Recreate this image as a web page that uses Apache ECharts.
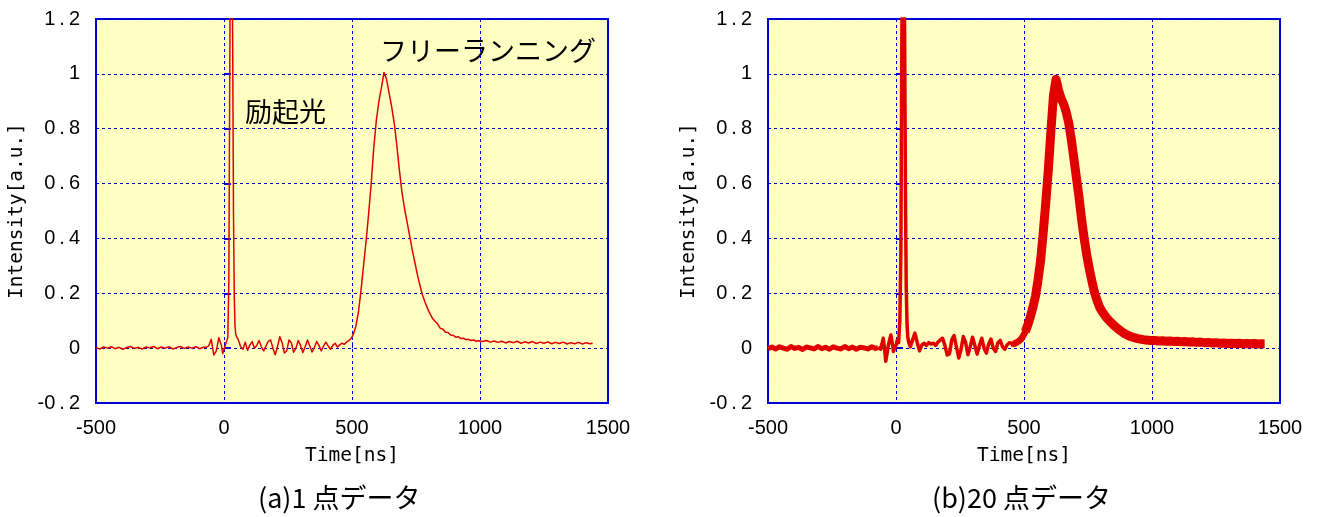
<!DOCTYPE html>
<html>
<head>
<meta charset="utf-8">
<script src="https://cdn.jsdelivr.net/npm/echarts@6/dist/echarts.min.js"></script>
<style>
  html, body { margin: 0; padding: 0; background: #fff; }
  #chart { width: 1324px; height: 517px; }
</style>
</head>
<body>
<div id="chart"></div>
<script>
// sample times [ns], shared by both traces
const timeNs = [
  -500, -485, -470, -455, -440, -425, -410, -395, -380, -365, -350, -335, -320, -305, -290, -275, -260, -245, -230, -215, -200, -185, -170, -155, -140, -125, -110, -95, -80,
  -70, -65, -60, -55, -50, -45, -40, -35, -30, -25, -20, -15, -10, -5, 0, 5, 10, 15,
  19, 22, 25, 28, 31, 34, 37, 40, 43, 46, 50,
  56, 65, 74, 83, 92, 101, 110, 119, 128, 137, 146, 155, 164, 173, 182, 191, 200, 209, 218, 227,
  236, 245, 254, 263, 272, 281, 290, 299, 308, 317, 326, 335, 344, 353, 362, 371, 380, 389, 398, 407,
  416, 425, 434, 443, 452, 461, 470, 479, 488, 497,
  505, 515, 525, 535, 545, 555, 565, 575, 585, 595, 605, 615, 625, 635, 645, 655, 665, 675, 685, 695,
  705, 715, 725, 735, 745, 755, 765, 775, 785, 795, 805, 815, 825, 835, 845, 855, 865, 875, 885, 895,
  905, 915, 925, 935, 945, 955, 965, 975, 985, 995,
  1010, 1025, 1040, 1055, 1070, 1085, 1100, 1115, 1130, 1145, 1160, 1175, 1190, 1205, 1220, 1235, 1250, 1265, 1280, 1295,
  1310, 1325, 1340, 1355, 1370, 1385, 1400, 1415, 1430, 1440
];

// (a) single shot
const singleShot = [
  0.002, -0.003, 0.004, 0.000, 0.005, -0.002, 0.003, -0.004, 0.002, 0.006, -0.001, 0.003, -0.003, 0.004, 0.001, 0.006, -0.002, 0.004, 0.000, 0.005, -0.003, 0.002, 0.006, -0.001, 0.004, 0.000, 0.005, -0.002, 0.003,
  0.003, -0.002, 0.008, 0.020, 0.032, 0.005, -0.025, -0.030, -0.010, 0.015, 0.038, 0.040, 0.010, -0.020, -0.015, 0.010, 0.015, 0.040,
  0.25, 0.9, 1.5, 1.7, 1.5, 1.1, 0.5, 0.2, 0.08, 0.05, 0.04,
  0.030, 0.005, -0.004, 0.022, -0.008, 0.012, 0.024, 0.000, 0.010, 0.028, 0.005, -0.010, 0.008, 0.025, 0.030, 0.000, -0.024, 0.005, 0.042, 0.020,
  -0.018, -0.010, 0.030, 0.020, -0.015, 0.000, 0.028, 0.010, -0.016, 0.005, 0.030, 0.008, -0.014, 0.002, 0.024, 0.010, -0.010, 0.008, 0.022, 0.008,
  -0.004, 0.010, 0.018, 0.004, 0.012, 0.018, 0.014, 0.022, 0.028, 0.036,
  0.05, 0.08, 0.13, 0.21, 0.30, 0.39, 0.49, 0.60, 0.73, 0.83, 0.90, 0.95, 1.005, 0.98, 0.93, 0.88, 0.82, 0.74, 0.65, 0.57,
  0.51, 0.46, 0.41, 0.36, 0.315, 0.27, 0.23, 0.195, 0.168, 0.145, 0.125, 0.108, 0.097, 0.088, 0.072, 0.070, 0.058, 0.057, 0.048, 0.047,
  0.040, 0.042, 0.035, 0.036, 0.031, 0.032, 0.028, 0.030, 0.025, 0.027,
  0.024, 0.028, 0.022, 0.026, 0.021, 0.025, 0.019, 0.024, 0.020, 0.025, 0.018, 0.023, 0.019, 0.024, 0.017, 0.022, 0.018, 0.023, 0.016, 0.021,
  0.017, 0.022, 0.015, 0.020, 0.016, 0.021, 0.015, 0.020, 0.016, 0.018
];

// (b) 20 shots overlaid
const avg20 = [
  -0.002, 0.004, -0.003, 0.005, 0.000, -0.004, 0.006, -0.001, 0.003, -0.005, 0.004, 0.001, -0.003, 0.006, -0.002, 0.003, -0.004, 0.005, 0.000, -0.003, 0.006, -0.002, 0.004, -0.004, 0.003, 0.001, -0.003, 0.005, -0.001,
  0.002, 0.000, -0.004, 0.015, 0.036, 0.000, -0.048, -0.020, 0.010, 0.030, 0.048, 0.020, -0.012, -0.010, 0.010, 0.030, 0.020, 0.100,
  0.35, 0.95, 1.5, 1.7, 1.5, 1.1, 0.55, 0.22, 0.09, 0.04, 0.02,
  0.005, 0.030, 0.055, 0.020, -0.010, 0.012, 0.018, 0.010, 0.020, 0.015, 0.018, 0.010, 0.022, 0.030, 0.036, 0.010, -0.025, -0.020, 0.030, 0.046,
  0.005, -0.036, -0.005, 0.042, 0.020, -0.024, 0.005, 0.040, 0.010, -0.022, 0.010, 0.036, 0.000, -0.018, 0.015, 0.033, 0.000, -0.012, 0.020, 0.028,
  0.005, -0.004, 0.012, 0.020, 0.018, 0.015, 0.020, 0.025, 0.032, 0.045,
  0.06, 0.085, 0.115, 0.15, 0.19, 0.25, 0.32, 0.42, 0.53, 0.65, 0.79, 0.92, 0.98, 0.94, 0.91, 0.89, 0.86, 0.82, 0.76, 0.69,
  0.62, 0.55, 0.47, 0.40, 0.34, 0.29, 0.245, 0.205, 0.175, 0.15, 0.133, 0.12, 0.108, 0.098, 0.089, 0.080, 0.072, 0.065, 0.058, 0.052,
  0.047, 0.043, 0.040, 0.037, 0.035, 0.033, 0.031, 0.030, 0.029, 0.028,
  0.028, 0.026, 0.027, 0.025, 0.026, 0.024, 0.025, 0.023, 0.024, 0.022, 0.023, 0.021, 0.022, 0.020, 0.021, 0.019, 0.020, 0.018, 0.019, 0.017,
  0.018, 0.017, 0.018, 0.016, 0.017, 0.016, 0.017, 0.015, 0.016, 0.016
];

const captions = ['(a)1 点データ', '(b)20 点データ'];
const notes = ['励起光', 'フリーランニング'];

const RED = '#e00000';
const BLUE = '#0000dd';
const pairs = vals => timeNs.map((t, i) => [t, vals[i]]);
const part = (vals, a, b) => pairs(vals).filter(p => p[0] >= a && p[0] <= b);

const grid = left => ({
  left: left, top: 19, width: 512, height: 384,
  show: true, backgroundColor: '#ffffc4', borderColor: BLUE, borderWidth: 2
});

const xAx = gi => ({
  type: 'value', gridIndex: gi, min: -500, max: 1500, interval: 500,
  name: 'Time[ns]', nameLocation: 'middle', nameGap: 43,
  nameTextStyle: { fontFamily: 'DejaVu Sans Mono', fontSize: 19.5, color: '#000' },
  axisLine: { show: false },
  axisTick: { show: true, inside: true, length: 6, lineStyle: { color: BLUE, width: 1 } },
  axisLabel: { fontFamily: 'Liberation Sans', fontSize: 20, color: '#000', margin: 15, formatter: v => String(v) },
  splitLine: { show: true, lineStyle: { color: '#0000cc', width: 1, type: [3, 3] } }
});

const yAx = gi => ({
  type: 'value', gridIndex: gi, min: -0.2, max: 1.2, interval: 0.2,
  name: 'Intensity[a.u.]', nameLocation: 'middle', nameGap: 69, nameRotate: 90,
  nameTextStyle: { fontFamily: 'DejaVu Sans Mono', fontSize: 19.5, color: '#000' },
  axisLine: { show: false },
  axisTick: { show: true, inside: true, length: 7, lineStyle: { color: BLUE, width: 2 } },
  axisLabel: {
    fontFamily: 'Liberation Sans', fontSize: 20, color: '#000', margin: 16,
    formatter: v => {
      const r = Math.round(v * 10) / 10;
      if (r === 0 || r === 1) return String(r);
      return r.toFixed(1).replace('.', '\u2009.\u2009');
    }
  },
  splitLine: { show: true, lineStyle: { color: '#0000cc', width: 1, type: [3, 3] } }
});

const line = (gi, data, width) => ({
  type: 'line', xAxisIndex: gi, yAxisIndex: gi, data: data,
  showSymbol: false, symbol: 'none', silent: true, clip: true,
  lineStyle: { color: RED, width: width, join: 'round', cap: 'butt' }
});

const textAt = (left, top, text, size) => ({
  type: 'text', left: left, top: top, silent: true,
  style: { text: text, font: size + 'px "Noto Sans CJK JP"', fill: '#000' }
});

const chart = echarts.init(document.getElementById('chart'));
chart.setOption({
  animation: false,
  grid: [grid(96), grid(768)],
  xAxis: [xAx(0), xAx(1)],
  yAxis: [yAx(0), yAx(1)],
  series: [
    line(0, pairs(singleShot), 1.5),
    line(1, part(avg20, -500, -70), 5),
    line(1, part(avg20, -70, 470), 3.5),
    line(1, part(avg20, 452, 540), 6.5),
    line(1, part(avg20, 505, 1440), 9)
  ],
  graphic: [
    textAt(245, 98, notes[0], 27),
    textAt(380, 37, notes[1], 27),
    textAt(258, 484, captions[0], 27),
    textAt(932, 484, captions[1], 27)
  ]
});
</script>
</body>
</html>
